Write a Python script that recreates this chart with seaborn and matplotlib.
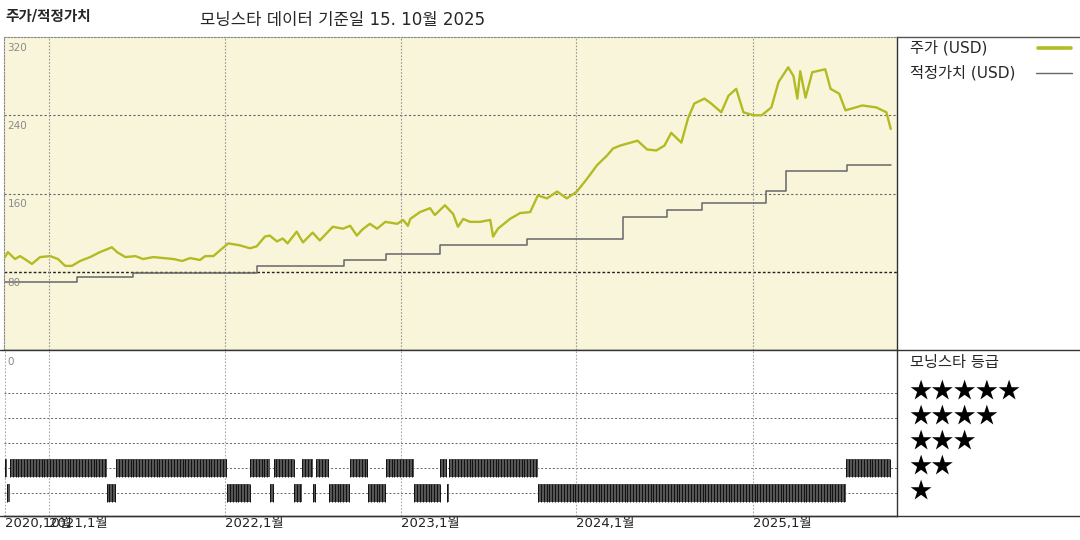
import matplotlib
matplotlib.use("Agg")
import matplotlib.pyplot as plt
import matplotlib.dates as mdates
from matplotlib.lines import Line2D
import seaborn as sns
import numpy as np
import pandas as pd

sns.set_style("white")
# DejaVu for latin/digits (wider, closer to the original), Noto CJK for hangul
plt.rcParams['font.family'] = ['DejaVu Sans', 'Noto Sans CJK KR']

# price (USD)
price_dates = ["2020-10-01", "2020-10-07", "2020-10-22", "2020-11-01", "2020-11-11", "2020-11-26",
               "2020-12-13", "2021-01-03", "2021-01-19", "2021-02-03", "2021-02-17", "2021-03-06",
               "2021-03-27", "2021-04-16", "2021-05-11", "2021-05-22", "2021-06-08", "2021-06-29",
               "2021-07-15", "2021-08-05", "2021-08-26", "2021-09-16", "2021-10-04", "2021-10-21",
               "2021-11-10", "2021-11-21", "2021-12-08", "2021-12-22", "2022-01-08", "2022-02-01",
               "2022-02-22", "2022-03-08", "2022-03-25", "2022-04-04", "2022-04-19", "2022-05-01",
               "2022-05-11", "2022-05-30", "2022-06-12", "2022-07-02", "2022-07-17", "2022-08-13",
               "2022-09-03", "2022-09-18", "2022-10-02", "2022-10-13", "2022-10-29", "2022-11-13",
               "2022-11-30", "2022-12-25", "2023-01-06", "2023-01-16", "2023-01-21", "2023-02-10",
               "2023-03-03", "2023-03-13", "2023-04-03", "2023-04-20", "2023-04-30", "2023-05-11",
               "2023-05-25", "2023-06-15", "2023-07-06", "2023-07-12", "2023-07-22", "2023-08-16",
               "2023-09-06", "2023-09-27", "2023-10-13", "2023-11-01", "2023-11-22", "2023-12-12",
               "2024-01-02", "2024-01-23", "2024-02-13", "2024-03-05", "2024-03-17", "2024-04-01",
               "2024-05-07", "2024-05-27", "2024-06-15", "2024-07-02", "2024-07-16", "2024-08-06",
               "2024-08-20", "2024-09-02", "2024-09-23", "2024-10-07", "2024-10-28", "2024-11-12",
               "2024-11-28", "2024-12-13", "2025-01-03", "2025-01-20", "2025-02-09", "2025-02-24",
               "2025-03-16", "2025-03-27", "2025-04-04", "2025-04-10", "2025-04-21", "2025-05-05",
               "2025-06-01", "2025-06-12", "2025-06-30", "2025-07-13", "2025-08-17", "2025-09-15",
               "2025-10-06", "2025-10-15"]
price_values = [95, 100, 93, 96, 93, 88,
                95, 96, 93, 86, 86, 91,
                95, 100, 105, 100, 95, 96,
                93, 95, 94, 93, 91, 94,
                92, 96, 96, 102, 109, 107,
                104, 106, 116, 117, 111, 114,
                109, 121, 110, 120, 112, 126,
                124, 127, 117, 123, 129, 124,
                131, 129, 133, 127, 134, 141,
                145, 138, 148, 139, 126, 134,
                131, 131, 133, 116, 124, 134,
                140, 141, 158, 155, 162, 155,
                162, 175, 189, 199, 206, 209,
                214, 205, 204, 209, 222, 212,
                237, 252, 257, 252, 243, 260,
                267, 243, 240, 240, 248, 274,
                289, 280, 257, 285, 258, 284,
                287, 267, 262, 245, 250, 248,
                243, 226]

# fair value (USD) step changes
fv_dates = ["2020-10-01", "2021-02-28", "2021-06-24", "2022-03-08", "2022-09-05", "2022-12-01",
            "2023-03-24", "2023-09-21", "2024-04-06", "2024-07-08", "2024-09-17", "2025-01-28",
            "2025-03-11", "2025-07-17", "2025-10-15"]
fv_values = [69.5, 74.5, 78.5, 86, 92.5, 98.5,
             107, 113.5, 135.5, 143, 150, 162.5,
             183, 189, 189]

# morningstar star rating periods
rating_starts = ["2020-10-01", "2020-10-06", "2020-10-11", "2021-04-30", "2021-05-20", "2022-01-05",
                 "2022-02-22", "2022-04-04", "2022-04-12", "2022-05-24", "2022-06-10", "2022-07-02",
                 "2022-07-10", "2022-08-05", "2022-09-18", "2022-10-25", "2022-12-01", "2023-01-29",
                 "2023-03-24", "2023-04-08", "2023-04-12", "2023-10-13", "2025-07-15"]
rating_values = [2, 1, 2, 1, 2, 1,
                 2, 1, 2, 1, 2, 1,
                 2, 1, 2, 1, 2, 1,
                 2, 1, 2, 1, 2]
rating_end = "2025-10-13"

tick_dates = ["2020-10-01", "2021-01-01", "2022-01-01", "2023-01-01", "2024-01-01", "2025-01-01"]
tick_labels = ["2020,10월", "2021,1월", "2022,1월", "2023,1월", "2024,1월", "2025,1월"]

price_color = "#B2BB22"
fv_color = "#666666"

W, H = 1080, 540
fig = plt.figure(figsize=(10.8, 5.4), dpi=100)


def box(x0, y0, x1, y1):
    return [x0 / W, 1 - y1 / H, (x1 - x0) / W, (y1 - y0) / H]


ax1 = fig.add_axes(box(4, 37, 897, 350))
ax2 = fig.add_axes(box(4, 350, 897, 516))
ax1.set_facecolor("#F9F5DA")

x0 = mdates.date2num(pd.Timestamp("2020-09-29"))
x1 = mdates.date2num(pd.Timestamp("2025-10-28"))

# top panel: price and fair value
price_df = pd.DataFrame({"date": pd.to_datetime(price_dates), "price": price_values})
fv_df = pd.DataFrame({"date": pd.to_datetime(fv_dates), "fv": fv_values})
sns.lineplot(data=fv_df, x="date", y="fv", ax=ax1, color=fv_color, lw=1.1,
             drawstyle="steps-post", zorder=3)
sns.lineplot(data=price_df, x="date", y="price", ax=ax1, color=price_color, lw=1.7, zorder=4)
ax1.set_xlim(x0, x1)
ax1.set_ylim(0, 320)
ax1.set_xticks([])
ax1.set_yticks([])
ax1.set_xlabel("")
ax1.set_ylabel("")

for v in [160, 240]:
    ax1.axhline(v, ls=(0, (2, 2)), color="#666", lw=0.8, zorder=1)
ax1.axhline(80, ls=(0, (2, 1.5)), color="#222", lw=1.0, zorder=1)
for d in tick_dates[1:]:
    ax1.axvline(mdates.date2num(pd.Timestamp(d)), ls=(0, (1.5, 1.5)), color="#999", lw=0.8, zorder=1)
for v in [80, 160, 240, 320]:
    ax1.text(0.004, v - 11, str(v), transform=ax1.get_yaxis_transform(), ha="left", va="center",
             fontsize=7.5, color="#8a8a8a", zorder=5)

for s in ["left", "top"]:
    ax1.spines[s].set_linestyle((0, (1.5, 1.5)))
    ax1.spines[s].set_color("#888")
    ax1.spines[s].set_linewidth(0.8)
for s in ["right", "bottom"]:
    ax1.spines[s].set_color("#333")
    ax1.spines[s].set_linewidth(1.0)

# bottom panel: star rating
ends = rating_starts[1:] + [rating_end]
for st, en, r in zip(rating_starts, ends, rating_values):
    a = mdates.date2num(pd.Timestamp(st))
    b = mdates.date2num(pd.Timestamp(en))
    ax2.barh(r, b - a, left=a, height=0.72, color="#555555", edgecolor="none", zorder=3)
    ticks = mdates.date2num(pd.date_range(st, en, freq="6D"))
    ax2.vlines(ticks, r - 0.36, r + 0.36, color="#111111", lw=0.7, zorder=4)

for r in range(1, 6):
    ax2.axhline(r, ls=(0, (2, 2)), color="#666", lw=0.7, zorder=1)
for d in tick_dates:
    ax2.axvline(mdates.date2num(pd.Timestamp(d)), ls=(0, (1.5, 1.5)), color="#aaa", lw=0.8, zorder=1)
ax2.set_xlim(x0, x1)
ax2.set_ylim(0.08, 6.72)
ax2.set_yticks([])
ax2.set_xticks([mdates.date2num(pd.Timestamp(d)) for d in tick_dates])
ax2.set_xticklabels(tick_labels, ha="left", fontsize=9.5, color="#222")
ax2.tick_params(axis="x", length=0, pad=1)
ax2.text(0.004, 6.24, "0", transform=ax2.get_yaxis_transform(), ha="left", va="center",
         fontsize=7.5, color="#8a8a8a")
for s in ["left", "top"]:
    ax2.spines[s].set_visible(False)
for s in ["right", "bottom"]:
    ax2.spines[s].set_color("#333")
    ax2.spines[s].set_linewidth(1.0)

# frame lines across the legend area
fig.add_artist(Line2D([0, 1], [1 - 350 / H] * 2, color="#333", lw=1.0))
fig.add_artist(Line2D([0, 1], [1 - 516 / H] * 2, color="#333", lw=1.0))
fig.add_artist(Line2D([897 / W, 1], [1 - 37 / H] * 2, color="#555", lw=1.0))

# titles
fig.text(5 / W, 1 - 17 / H, "주가/적정가치", fontsize=10.5, fontweight="bold", va="center")
fig.text(200 / W, 1 - 20 / H, "모닝스타 데이터 기준일 15. 10월 2025", fontsize=12, va="center")

# legend
fig.text(910 / W, 1 - 48 / H, "주가 (USD)", fontsize=11, va="center")
fig.add_artist(Line2D([1038 / W, 1071 / W], [1 - 48 / H] * 2, color=price_color, lw=2.6))
fig.text(910 / W, 1 - 73 / H, "적정가치 (USD)", fontsize=11, va="center")
fig.add_artist(Line2D([1036 / W, 1072 / W], [1 - 73 / H] * 2, color=fv_color, lw=1.0))

fig.text(910 / W, 1 - 362 / H, "모닝스타 등급", fontsize=11, va="center")
for i in range(5):
    fig.text(909 / W, 1 - (391 + 25 * i) / H, "★" * (5 - i), fontsize=16, va="center",
             color="black", family=["Noto Sans CJK KR", "DejaVu Sans"])

fig.savefig("out.png", dpi=100)
